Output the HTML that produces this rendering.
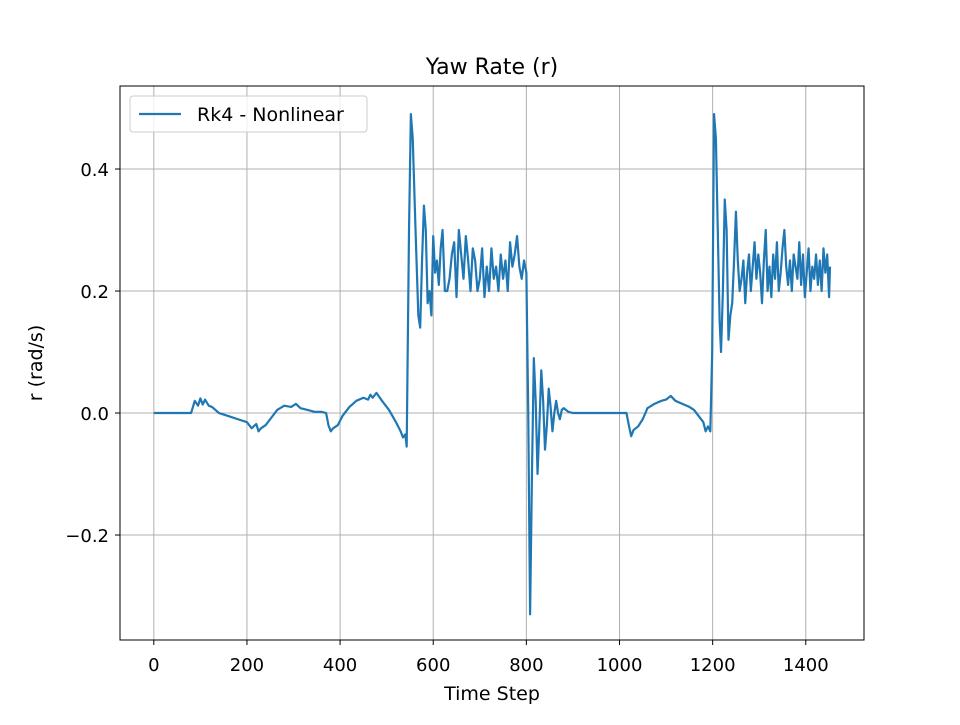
<!DOCTYPE html>
<html><head><meta charset="utf-8"><style>
body{margin:0;background:#fff;font-family:"Liberation Sans","DejaVu Sans",sans-serif}
svg text{font-family:"DejaVu Sans","Liberation Sans",sans-serif;fill:#000}
</style></head><body>
<svg id="c" width="960" height="720"></svg>
<script>
const steps=[0,80,88,95,100,105,110,118,125,140,160,180,200,210,220,225,230,240,250,265,280,295,305,315,330,345,360,370,375,380,385,395,405,420,435,450,460,465,470,478,490,505,520,530,535,540,543,548,552,556,562,568,572,576,580,584,588,592,596,600,604,608,612,616,620,625,630,635,640,645,650,655,660,665,670,675,680,685,690,695,700,705,710,715,720,725,730,735,740,745,750,755,760,765,770,775,780,785,790,795,800,804,808,812,816,820,824,828,832,836,840,844,848,852,856,860,864,868,872,876,880,890,900,950,1015,1020,1025,1030,1040,1050,1060,1075,1090,1100,1110,1120,1135,1150,1160,1170,1180,1185,1190,1195,1199,1203,1207,1211,1215,1218,1222,1226,1230,1234,1238,1242,1246,1250,1254,1258,1262,1266,1270,1274,1278,1282,1286,1290,1294,1298,1302,1306,1310,1314,1318,1322,1326,1330,1334,1338,1342,1346,1350,1354,1358,1362,1366,1370,1374,1378,1382,1386,1390,1394,1398,1402,1406,1410,1414,1418,1422,1426,1430,1434,1438,1442,1446,1450,1452];
const vals=[0,0,0.02,0.012,0.024,0.014,0.022,0.012,0.01,0,-0.005,-0.01,-0.015,-0.025,-0.018,-0.03,-0.025,-0.02,-0.01,0.005,0.012,0.01,0.015,0.008,0.005,0.002,0.002,0,-0.02,-0.03,-0.025,-0.02,-0.005,0.01,0.02,0.025,0.022,0.03,0.025,0.033,0.02,0.005,-0.015,-0.03,-0.04,-0.035,-0.055,0.3,0.49,0.45,0.3,0.16,0.14,0.25,0.34,0.3,0.18,0.2,0.16,0.29,0.23,0.25,0.21,0.27,0.3,0.2,0.2,0.22,0.26,0.28,0.19,0.3,0.26,0.22,0.29,0.25,0.2,0.27,0.25,0.2,0.22,0.27,0.19,0.24,0.2,0.27,0.22,0.24,0.2,0.26,0.22,0.25,0.2,0.28,0.24,0.26,0.29,0.24,0.22,0.25,0.23,0.0,-0.33,-0.1,0.09,0.02,-0.1,-0.02,0.07,0.02,-0.06,-0.02,0.04,0.01,-0.03,0.0,0.02,0.0,-0.01,0.005,0.008,0.002,0,0,0,-0.02,-0.038,-0.028,-0.022,-0.01,0.008,0.015,0.02,0.022,0.028,0.02,0.015,0.01,0.005,-0.005,-0.015,-0.03,-0.022,-0.03,0.1,0.49,0.45,0.3,0.15,0.1,0.2,0.35,0.3,0.12,0.16,0.18,0.25,0.33,0.25,0.2,0.22,0.25,0.18,0.23,0.26,0.2,0.24,0.28,0.22,0.26,0.23,0.18,0.25,0.3,0.2,0.24,0.19,0.26,0.22,0.28,0.2,0.23,0.27,0.3,0.24,0.21,0.25,0.2,0.26,0.24,0.22,0.28,0.21,0.26,0.19,0.23,0.27,0.2,0.24,0.22,0.26,0.21,0.25,0.2,0.27,0.23,0.26,0.19,0.24,0.22,0.29,0.3,0.25];
const xTicks=[0,200,400,600,800,1000,1200,1400];
const yTicks=[-0.2,0.0,0.2,0.4];
const yTickLabels=["\u22120.2","0.0","0.2","0.4"];
const L=120,R=864,T=86,B=640,xmin=-72.6,xmax=1525,ymin=-0.3721,ymax=0.5361;
const X=v=>L+(v-xmin)/(xmax-xmin)*(R-L), Y=v=>B-(v-ymin)/(ymax-ymin)*(B-T);
const s=document.getElementById('c'),NS='http://www.w3.org/2000/svg';
function mk(t,a,txt){const e=document.createElementNS(NS,t);for(const k in a)e.setAttribute(k,a[k]);if(txt!=null)e.textContent=txt;s.appendChild(e);return e;}
xTicks.forEach((v,i)=>{const x=X(v);
const g=mk('line',{x1:x,x2:x,y1:T,y2:B,stroke:'#b0b0b0','stroke-width':1});

const t=mk('line',{x1:x,x2:x,y1:B,y2:B+5,stroke:'#000','stroke-width':1});

const l=mk('text',{x:x,y:B+31,'text-anchor':'middle','font-size':18},String(v));
});
yTicks.forEach((v,i)=>{const y=Y(v);
const g=mk('line',{x1:L,x2:R,y1:y,y2:y,stroke:'#b0b0b0','stroke-width':1});

const t=mk('line',{x1:L-5,x2:L,y1:y,y2:y,stroke:'#000','stroke-width':1});

const l=mk('text',{x:L-11,y:y+7,'text-anchor':'end','font-size':18},yTickLabels[i]);
});
const p=mk('polyline',{points:steps.map((st,i)=>X(st)+','+Y(vals[i])).join(' '),fill:'none',stroke:'#1f77b4','stroke-width':2.2,'stroke-linejoin':'round'});

const f=mk('rect',{x:L,y:T,width:R-L,height:B-T,fill:'none',stroke:'#000','stroke-width':1});

const ti=mk('text',{x:(L+R)/2,y:T-12,'text-anchor':'middle','font-size':22},'Yaw Rate (r)');

const xl=mk('text',{x:(L+R)/2,y:700,'text-anchor':'middle','font-size':19},'Time Step');

const yl=mk('text',{x:0,y:0,'text-anchor':'middle','font-size':19,transform:'translate(42,363) rotate(-90)'},'r (rad/s)');

const lg=mk('rect',{x:130,y:96,width:237,height:36,rx:3,fill:'#fff','fill-opacity':0.8,stroke:'#cccccc','stroke-width':1});

const ll=mk('line',{x1:139,x2:181,y1:114,y2:114,stroke:'#1f77b4','stroke-width':2.2});

const lt=mk('text',{x:197,y:121,'font-size':19},'Rk4 - Nonlinear');

</script>
</body></html>
